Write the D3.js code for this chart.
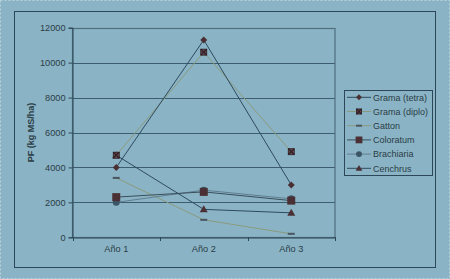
<!DOCTYPE html>
<html><head><meta charset="utf-8">
<script src="https://cdn.jsdelivr.net/npm/d3@7"></script>
<style>html,body{margin:0;padding:0;background:#8ab4c5;}svg{display:block;}</style>
</head><body><svg id="c" width="450" height="279"></svg>
<script>
const categories = ["Año 1", "Año 2", "Año 3"];
const yTicks = [0, 2000, 4000, 6000, 8000, 10000, 12000];
const seriesNames = ["Grama (tetra)", "Grama (diplo)", "Gatton", "Coloratum", "Brachiaria", "Cenchrus"];
const gramaTetra = [4000, 11300, 3000];
const gramaDiplo = [4700, 10600, 4900];
const gatton = [3400, 1000, 200];
const coloratum = [2300, 2600, 2100];
const brachiaria = [2000, 2700, 2200];
const cenchrus = [4700, 1600, 1400];
const seriesValues = [gramaTetra, gramaDiplo, gatton, coloratum, brachiaria, cenchrus];
const lineColors = ["#2e4a5e", "#8a9a7e", "#8a9a7e", "#3a4f5c", "#5f7f90", "#2e4a5e"];
const markerTypes = ["diamond", "xsquare", "dash", "square", "circle", "triangle"];
const markerColor = "#4a3034";

const svg = d3.select("#c");
const W = 450, H = 279;
svg.append("rect").attr("x",0).attr("y",0).attr("width",W).attr("height",H).attr("fill","#8ab4c5");
svg.append("rect").attr("x",0.5).attr("y",0.5).attr("width",W-1).attr("height",H-1).attr("fill","none").attr("stroke","#b8d2dc").attr("stroke-dasharray","2,2");
svg.append("rect").attr("x",14.5).attr("y",11.5).attr("width",421).attr("height",256).attr("fill","none").attr("stroke","#2c4858").attr("stroke-width",1);

const L = 72.5, R = 335, T = 27.7, B = 237.3;
const x = d3.scaleBand().domain(categories).range([L, R]);
const y = d3.scaleLinear().domain([0, 12000]).range([B, T]);

svg.append("g").selectAll("line").data(yTicks.filter(d=>d>0)).join("line")
  .attr("x1",L).attr("x2",R).attr("y1",d=>Math.round(y(d))+0.5).attr("y2",d=>Math.round(y(d))+0.5)
  .attr("stroke","#3b5d6e").attr("stroke-width",1);
svg.append("rect").attr("x",L).attr("y",Math.round(T)+0.5).attr("width",R-L).attr("height",Math.round(B)-Math.round(T))
  .attr("fill","none").attr("stroke","#4f6e7e").attr("stroke-width",1.2);

const txtColor = "#2a3c46";
const yAxis = svg.append("g").attr("transform",`translate(${L},0)`)
  .call(d3.axisLeft(y).tickValues(yTicks).tickSize(4).tickPadding(3).tickFormat(d3.format("d")));
yAxis.select(".domain").attr("stroke","#2c4858");
yAxis.selectAll(".tick line").attr("stroke","#2c4858");
yAxis.selectAll("text").attr("fill",txtColor).style("font-family","Liberation Sans, Arial").style("font-size","9.2px");

const xAxis = svg.append("g").attr("transform",`translate(0,${Math.round(B)+0.5})`)
  .call(d3.axisBottom(x).tickSize(0).tickPadding(8));
xAxis.select(".domain").attr("stroke","#2c4858");
xAxis.selectAll("text").attr("fill",txtColor).style("font-family","Liberation Sans, Arial").style("font-size","9.2px");
const bounds = categories.map(c=>x(c)).concat([R]);
svg.append("g").selectAll("line").data(bounds).join("line")
  .attr("x1",d=>Math.round(d)+0.5).attr("x2",d=>Math.round(d)+0.5)
  .attr("y1",Math.round(B)).attr("y2",Math.round(B)+4).attr("stroke","#2c4858");

svg.append("text").attr("transform",`translate(34,${(T+B)/2}) rotate(-90)`)
  .attr("text-anchor","middle").attr("fill",txtColor)
  .style("font-family","Liberation Sans, Arial").style("font-size","9px").style("font-weight","bold")
  .text("PF (kg MS/ha)");

const cx = c => x(c) + x.bandwidth()/2;
function drawMarker(g, type, px, py, s) {
  s = s || 1;
  if (type==="diamond") g.append("path").attr("d",`M${px},${py-3.5*s}L${px+3.5*s},${py}L${px},${py+3.5*s}L${px-3.5*s},${py}Z`).attr("fill",markerColor);
  else if (type==="xsquare") {
    g.append("rect").attr("x",px-3*s).attr("y",py-3*s).attr("width",6*s).attr("height",6*s).attr("fill","#6a4a50").attr("stroke","#2a1c20").attr("stroke-width",0.8);
    g.append("path").attr("d",`M${px-3*s},${py-3*s}L${px+3*s},${py+3*s}M${px+3*s},${py-3*s}L${px-3*s},${py+3*s}`).attr("stroke","#2a1c20").attr("stroke-width",1.1);
  }
  else if (type==="dash") g.append("rect").attr("x",px-3.5*s).attr("y",py-1).attr("width",7*s).attr("height",2).attr("fill","#4a5560");
  else if (type==="square") g.append("rect").attr("x",px-4*s).attr("y",py-4*s).attr("width",8*s).attr("height",8*s).attr("fill",markerColor);
  else if (type==="circle") g.append("circle").attr("cx",px).attr("cy",py).attr("r",3.5*s).attr("fill","#3c5566");
  else if (type==="triangle") g.append("path").attr("d",`M${px},${py-4*s}L${px+4*s},${py+3*s}L${px-4*s},${py+3*s}Z`).attr("fill",markerColor);
}

const line = d3.line().x((d,i)=>cx(categories[i])).y(d=>y(d));
const order = [2,4,3,5,1,0];
order.forEach(k=>{
  svg.append("path").datum(seriesValues[k]).attr("d",line).attr("fill","none")
    .attr("stroke",lineColors[k]).attr("stroke-width",1);
});
order.forEach(k=>{
  const g = svg.append("g");
  seriesValues[k].forEach((v,i)=>drawMarker(g, markerTypes[k], cx(categories[i]), y(v)));
});

const lg = svg.append("g");
lg.append("rect").attr("x",344.5).attr("y",90.5).attr("width",88).attr("height",85).attr("fill","none").attr("stroke","#2c4858");
seriesNames.forEach((n,i)=>{
  const yy = 97.3 + i*14.2;
  lg.append("line").attr("x1",347).attr("x2",371).attr("y1",yy).attr("y2",yy).attr("stroke",lineColors[i]).attr("stroke-width",1);
  drawMarker(lg, markerTypes[i], 359, yy, 0.85);
  lg.append("text").attr("x",373).attr("y",yy+3.2).attr("fill",txtColor)
    .style("font-family","Liberation Sans, Arial").style("font-size","9px").text(n);
});
</script></body></html>
